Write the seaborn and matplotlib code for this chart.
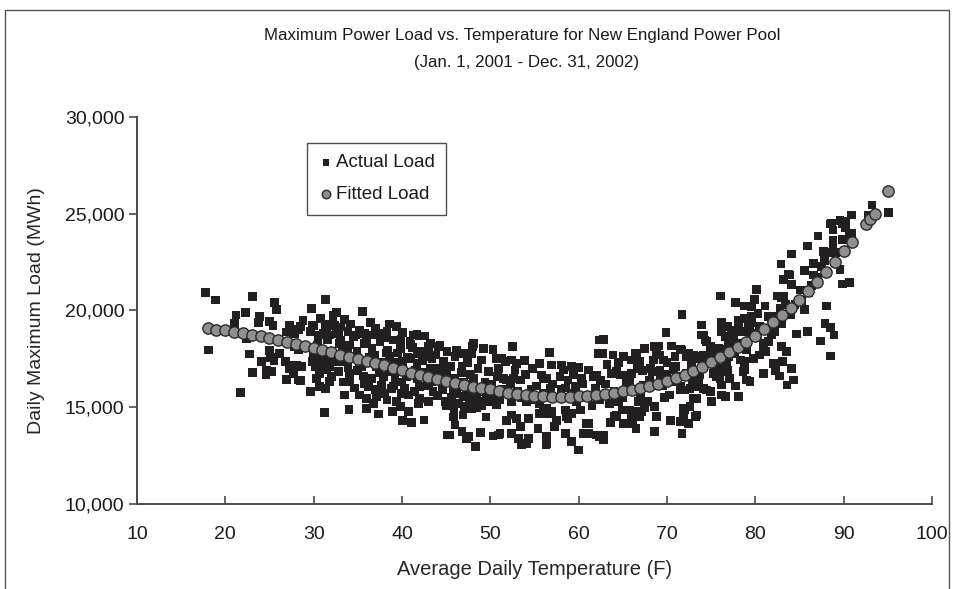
import matplotlib
matplotlib.use("Agg")
import matplotlib.pyplot as plt
from matplotlib.patches import Rectangle
from matplotlib.ticker import FuncFormatter, MultipleLocator
import seaborn as sns
import pandas as pd

# Daily observations (average daily temperature in F, daily maximum load in MWh)
cold_temp = [17.8, 18.9, 23.1, 25.6, 25.8, 22.3, 21.2, 23.9, 21.0, 23.8, 25.0, 25.4, 27.3, 26.9,
             27.7, 28.3, 22.4, 18.1, 22.7, 25.0, 26.1, 25.1, 25.5, 24.1, 26.8, 28.1, 27.3, 24.7,
             25.2, 23.1, 24.6, 27.7, 26.9, 28.3, 21.7, 27.8, 28.3, 28.5, 28.8, 29.9, 29.6, 27.9,
             29.8, 27.7, 29.6, 28.6, 28.5]
cold_load = [20920, 20540, 20710, 20400, 20060, 19900, 19770, 19680, 19340, 19390, 19420, 19210, 19250, 18890,
             18850, 19030, 18560, 17960, 17750, 17920, 17790, 17580, 17405, 17355, 17355, 17180, 17010, 16925,
             16840, 16805, 16665, 16750, 16445, 16410, 15750, 18130, 17960, 19160, 19470, 19250, 18900, 18820,
             20110, 17180, 15800, 17100, 16400]

cool_temp = [31.3, 32.6, 32.2, 35.5, 33.5, 36.4, 30.0, 31.3, 32.3, 38.6, 39.4, 30.7, 31.5, 32.6,
             33.9, 35.2, 36.8, 37.9, 40.1, 41.7, 42.6, 33.0, 34.5, 36.0, 37.5, 39.0, 40.9, 43.0,
             44.3, 45.1, 34.1, 36.6, 38.4, 39.8, 41.7, 43.4, 44.7, 30.0, 31.1, 32.2, 30.3, 31.8,
             33.4, 34.7, 35.4, 37.1, 38.6, 40.1, 41.7, 43.2, 30.7, 32.8, 34.1, 35.6, 36.6, 37.9,
             38.6, 40.5, 41.8, 44.3, 31.8, 34.1, 36.2, 37.7, 38.8, 40.3, 42.0, 43.5, 31.3, 33.5,
             35.2, 36.0, 37.1, 38.3, 39.4, 40.7, 42.0, 43.0, 39.8, 40.7, 36.0, 37.3, 31.2, 40.1,
             41.1, 42.5, 45.1, 44.9, 32.2, 32.4, 31.1, 31.8, 32.8, 34.7, 37.5, 38.3, 41.3, 42.0,
             43.2, 44.1, 30.5, 30.7, 30.2, 30.9, 31.5, 31.5, 30.7, 33.2, 34.9, 35.8, 36.9, 37.6,
             38.9, 39.5, 40.6, 41.2, 42.3, 42.8, 43.8, 44.5, 43.7, 42.9, 41.5, 40.0, 39.2, 35.0,
             33.9, 32.5, 31.9, 30.4, 29.9, 44.0, 41.4, 39.9, 37.0, 34.6, 45.0, 30.8, 33.0, 34.2,
             35.8, 37.0, 38.0, 39.9, 41.0, 42.0, 43.0, 44.2, 44.8, 43.4, 42.2, 41.0, 39.6, 38.2,
             36.3, 35.2, 33.8, 32.9, 31.6, 30.9, 30.3, 32.0, 33.4, 35.8, 37.4, 38.0, 39.0, 41.9,
             43.0, 44.6, 45.0, 36.8, 34.0, 38.9]
cool_load = [20580, 19890, 19680, 19940, 19540, 19390, 19200, 19290, 19200, 19300, 19160, 18730, 18820, 18820,
             18900, 18990, 18730, 18820, 18850, 18785, 18680, 18475, 18650, 18475, 18390, 18475, 18390, 18130,
             18215, 17870, 18215, 18045, 17960, 18045, 17790, 17530, 17355, 17610, 17530, 17700, 17270, 17100,
             17355, 17530, 17100, 17100, 17610, 17355, 17270, 17010, 16750, 16840, 16750, 16615, 16495, 16580,
             16840, 16580, 16495, 16495, 16320, 16320, 16065, 16150, 15980, 15980, 16065, 15800, 15980, 15630,
             15630, 15460, 15545, 15375, 15290, 15630, 15460, 15290, 15030, 14770, 14945, 14650, 14720, 14305,
             14200, 14340, 13565, 15290, 19770, 19250, 18820, 18730, 18900, 18730, 18680, 18900, 18730, 18680,
             18300, 18130, 18560, 17440, 17100, 17010, 17440, 16925, 16060, 18100, 17900, 18300, 17700, 17300,
             17200, 17800, 17600, 18100, 17400, 17900, 17700, 16900, 16700, 16400, 16900, 16300, 16500, 16900,
             17050, 17350, 17900, 18200, 17350, 15600, 15800, 15700, 15900, 16000, 16700, 19600, 19150, 19300,
             18800, 19050, 18600, 18500, 18250, 17900, 17600, 17000, 16600, 16300, 16800, 17500, 17300, 17800,
             17600, 17300, 17800, 18300, 18500, 17800, 16500, 16600, 16300, 16200, 16800, 15700, 16100, 15200,
             16100, 15900, 15100, 15200, 14900, 14800]

mild_temp = [48.0, 50.3, 52.5, 56.7, 46.0, 46.9, 46.8, 47.9, 49.0, 50.7, 51.7, 52.4, 53.0, 53.9,
             55.6, 56.9, 58.3, 59.2, 60.0, 61.1, 62.2, 49.8, 50.9, 52.8, 51.5, 52.6, 53.4, 55.8,
             56.4, 56.8, 58.8, 59.4, 60.3, 61.7, 48.1, 45.4, 46.2, 46.9, 47.7, 48.5, 49.2, 45.4,
             46.4, 47.1, 47.9, 50.7, 52.4, 54.1, 55.6, 56.4, 56.9, 58.5, 59.2, 60.2, 61.1, 62.0,
             46.9, 46.0, 46.8, 47.3, 48.3, 50.3, 50.9, 52.4, 53.0, 53.4, 52.4, 53.2, 53.5, 54.3,
             54.3, 56.4, 56.3, 57.3, 58.5, 59.2, 60.0, 60.5, 45.4, 58.6, 55.6, 46.2, 48.1, 49.2,
             51.3, 47.5, 51.1, 56.0, 59.6, 51.8, 58.1, 62.0, 56.0, 56.6, 58.8, 60.9, 54.1, 56.4,
             61.1, 62.4, 45.8, 46.5, 47.3, 48.0, 48.8, 49.5, 45.6, 47.0, 50.0, 46.0, 47.6, 49.0,
             50.2, 48.4, 45.9, 51.0, 52.0, 53.5, 54.6, 55.2, 57.5, 58.0, 59.8, 61.5, 57.9, 54.8,
             50.8, 45.5, 46.7, 47.4, 48.6, 49.4, 50.4, 51.4, 52.3, 53.1, 54.0, 55.0, 56.0, 57.0,
             58.5, 59.5, 60.5, 61.5, 57.5, 55.4, 51.8, 49.5, 48.9, 46.4, 47.8, 45.8]
mild_load = [18130, 17995, 18130, 17820, 17610, 17790, 17100, 17790, 17440, 17530, 17355, 17440, 17270, 17410,
             17270, 17180, 16925, 17100, 17060, 16925, 17790, 16840, 17010, 16925, 16495, 16495, 16410, 16665,
             16495, 15980, 16410, 16665, 16495, 16580, 16495, 16320, 15720, 15545, 15720, 15460, 15290, 15120,
             15200, 15030, 14945, 15120, 15290, 15290, 15200, 14945, 14770, 14860, 14690, 14860, 14170, 13565,
             14600, 14080, 13735, 13395, 12960, 13515, 13565, 14600, 14430, 13995, 13650, 13395, 13050, 13395,
             14430, 13480, 13050, 13995, 13650, 13220, 12790, 13650, 13565, 14515, 14690, 17960, 18300, 18045,
             17530, 13480, 13650, 16495, 16065, 16410, 17180, 16665, 14860, 14690, 14430, 14170, 13135, 13135,
             13650, 13480, 15900, 16100, 15900, 16200, 15800, 15600, 15500, 16300, 15300, 16500, 15300, 15100,
             16200, 15000, 14800, 15400, 15700, 15500, 15900, 16100, 15500, 15900, 15300, 15600, 16600, 17000,
             16600, 17100, 16800, 17300, 17000, 16300, 15700, 15900, 16200, 15800, 16700, 15400, 15700, 16200,
             16000, 15700, 16200, 15100, 14300, 13900, 14300, 14500, 13700, 16300, 16700, 14500]

warm_temp = [76.1, 77.8, 78.8, 71.7, 73.9, 76.2, 78.1, 69.9, 76.2, 77.3, 74.1, 62.8, 74.5, 75.6,
             76.9, 69.0, 70.5, 71.5, 67.5, 66.4, 62.7, 63.9, 65.1, 66.0, 66.9, 68.5, 69.6, 70.9,
             72.2, 73.4, 74.9, 76.0, 76.9, 78.3, 78.8, 79.0, 63.7, 64.7, 66.0, 66.6, 68.1, 69.2,
             70.7, 72.2, 73.7, 75.2, 76.0, 77.1, 65.4, 67.3, 70.3, 71.5, 72.6, 74.5, 76.2, 78.1,
             73.4, 72.6, 71.9, 73.4, 72.4, 71.5, 71.7, 68.6, 68.8, 68.6, 66.8, 65.8, 64.9, 64.1,
             66.0, 67.1, 65.1, 66.1, 62.8, 62.4, 62.4, 66.6, 68.6, 69.2, 71.7, 73.0, 64.3, 65.2,
             68.3, 69.2, 71.5, 72.0, 73.4, 64.3, 66.2, 66.9, 72.0, 62.8, 74.3, 74.9, 75.8, 76.6,
             77.5, 72.4, 73.2, 74.1, 78.1, 78.8, 79.6, 78.1, 79.2, 75.3, 75.6, 76.7, 77.7, 78.5,
             79.0, 78.8, 78.6, 76.3, 76.2, 76.6, 74.1, 74.9, 73.0, 73.2, 71.9, 71.9, 76.9, 79.4,
             73.9, 63.0, 64.0, 65.0, 67.0, 68.0, 69.5, 70.0, 63.5, 61.9, 67.8, 70.8, 72.8, 74.0,
             75.0, 77.0, 79.5, 78.0, 73.6, 62.5, 63.2, 64.5, 65.8, 67.2, 68.8, 70.0, 71.2, 71.0,
             72.9, 73.9, 74.6, 75.4, 76.5, 77.4, 78.4, 79.3, 79.8, 77.8, 75.0, 69.7, 67.5, 64.5,
             66.5, 70.4, 63.6]
warm_load = [20750, 20400, 20230, 19800, 19250, 19370, 19510, 18850, 18900, 18990, 18730, 18510, 18390, 18045,
             18390, 18165, 18165, 17995, 18045, 17790, 17790, 17700, 17610, 17440, 17355, 17440, 17440, 17610,
             17610, 17530, 17530, 17010, 16925, 17440, 16925, 16410, 16750, 16665, 16750, 17010, 17010, 16925,
             16925, 16750, 16665, 16750, 16495, 16495, 16235, 16150, 15630, 15890, 15980, 15890, 15630, 15545,
             15460, 15030, 14945, 14600, 14170, 14250, 13650, 15030, 14515, 13735, 15290, 14860, 14860, 14515,
             14515, 14770, 14170, 14170, 13565, 18475, 15370, 17700, 18130, 17700, 17960, 17700, 16840, 16665,
             16840, 16495, 16065, 15890, 16065, 14600, 14770, 14515, 14860, 13310, 18475, 18130, 18045, 18645,
             18645, 17790, 17610, 17700, 19420, 19600, 19680, 19080, 19340, 16750, 16580, 17270, 17790, 18130,
             17960, 17355, 16840, 16840, 16150, 15545, 15980, 15800, 15460, 14515, 14860, 14515, 19160, 20230,
             18730, 16200, 15800, 15500, 15700, 16400, 16100, 16700, 15200, 16000, 15300, 16300, 17200, 17300,
             17900, 17600, 18700, 18300, 16400, 16400, 17200, 17300, 16300, 16900, 17800, 17300, 16600, 17100,
             16400, 17000, 17300, 17100, 18000, 18300, 18900, 19000, 17500, 16100, 15300, 15500, 15000, 15300,
             13900, 14300, 14200]

hot_temp = [95.1, 93.2, 92.8, 90.9, 89.6, 90.2, 88.5, 88.8, 90.2, 87.1, 90.7, 88.8, 89.9, 85.9,
            84.1, 87.7, 88.8, 82.9, 86.6, 87.5, 85.6, 89.6, 83.8, 83.2, 84.1, 80.1, 82.5, 83.2,
            79.9, 85.1, 89.9, 90.7, 86.6, 81.1, 82.8, 85.6, 88.1, 79.6, 80.3, 81.5, 83.0, 87.9,
            88.5, 79.6, 84.7, 85.9, 88.9, 87.4, 81.8, 80.9, 80.9, 83.0, 83.5, 88.5, 83.1, 82.1,
            82.3, 84.1, 80.9, 82.7, 84.3, 83.6, 79.4, 88.3, 83.9, 82.9, 80.5, 81.8, 88.6, 89.9,
            90.9, 80.0, 81.0, 82.0, 81.5, 80.5, 82.5, 84.5, 86.0, 87.0, 80.3, 81.2, 82.2, 83.4,
            84.0, 85.2, 86.4, 87.8, 89.1]
hot_load = [25055, 25450, 24935, 24935, 24640, 24590, 24470, 24160, 24300, 23850, 23900, 23645, 23680, 23330,
            22920, 23040, 23300, 22400, 22440, 22260, 22060, 22130, 21890, 21610, 21350, 21100, 20750, 20710,
            20580, 21060, 21370, 21440, 21835, 20230, 20110, 20060, 20230, 20200, 19850, 19680, 19300, 19340,
            19130, 19370, 18785, 18900, 18730, 18420, 18730, 18300, 18045, 18130, 17870, 17650, 17355, 17270,
            16890, 17010, 16750, 16615, 16410, 16150, 16320, 22990, 21830, 20680, 19160, 19590, 24510, 24510,
            23990, 18800, 19000, 19300, 18400, 17700, 19700, 20300, 20900, 21700, 18600, 17900, 18900, 20300,
            19800, 20500, 21300, 22600, 23000]

# Model output at each observed temperature
fitted_temp = [18, 19, 20, 21, 22, 23, 24, 25, 26, 27, 28, 29, 30, 31, 32, 33, 34, 35, 36, 37,
               38, 39, 40, 41, 42, 43, 44, 45, 46, 47, 48, 49, 50, 51, 52, 53, 54, 55, 56, 57,
               58, 59, 60, 61, 62, 63, 64, 65, 66, 67, 68, 69, 70, 71, 72, 73, 74, 75, 76, 77,
               78, 79, 80, 81, 82, 83, 84, 85, 86, 87, 88, 89, 90, 91, 92.5, 93, 93.5, 95]
fitted_load = [19080, 19010, 18990, 18910, 18830, 18740, 18660, 18570, 18480, 18380, 18260, 18160, 18050,
               17940, 17830, 17720, 17610, 17480, 17380, 17280, 17160, 17030, 16910, 16790, 16670, 16550,
               16440, 16340, 16250, 16150, 16060, 15990, 15920, 15830, 15760, 15700, 15640, 15600, 15570,
               15550, 15550, 15550, 15560, 15580, 15610, 15680, 15760, 15830, 15910, 15990, 16100, 16220,
               16340, 16500, 16680, 16880, 17100, 17320, 17580, 17850, 18110, 18390, 18690, 19020, 19380,
               19760, 20150, 20560, 21000, 21470, 22000, 22520, 23050, 23550, 24480, 24720, 24990, 26150]

actual = pd.DataFrame({
    "temp": cold_temp + cool_temp + mild_temp + warm_temp + hot_temp,
    "load": cold_load + cool_load + mild_load + warm_load + hot_load,
})
fitted = pd.DataFrame({"temp": fitted_temp, "load": fitted_load})

sns.set_theme(style="white")
plt.rcParams["font.family"] = ["Liberation Sans", "DejaVu Sans"]
plt.rcParams["text.color"] = "#1a1a1a"

fig = plt.figure(figsize=(9.54, 5.89), dpi=100)
ax = fig.add_axes([0.1436, 0.1443, 0.8333, 0.6571])

sns.scatterplot(data=actual, x="temp", y="load", ax=ax, marker="s", s=40,
                color="#231f20", edgecolor="none", linewidth=0, label="Actual Load", zorder=2)
sns.scatterplot(data=fitted, x="temp", y="load", ax=ax, marker="o", s=66,
                color="#8f8f8f", edgecolor="#2a2a2a", linewidth=1.0, label="Fitted Load", zorder=3)

ax.set_xlim(10, 100)
ax.set_ylim(10000, 30000)
ax.xaxis.set_major_locator(MultipleLocator(10))
ax.yaxis.set_major_locator(MultipleLocator(5000))
ax.yaxis.set_major_formatter(FuncFormatter(lambda v, p: f"{int(v):,}"))

for side in ("top", "right"):
    ax.spines[side].set_visible(False)
for side in ("left", "bottom"):
    ax.spines[side].set_color("#4a4a4a")
    ax.spines[side].set_linewidth(1.4)

ax.tick_params(axis="x", direction="in", length=6, width=1.2, color="#4a4a4a",
               labelsize=14, pad=16, labelcolor="#1a1a1a")
ax.tick_params(axis="y", direction="out", length=6, width=1.2, color="#4a4a4a",
               labelsize=14, pad=3, labelcolor="#1a1a1a")
ax.tick_params(left=True, bottom=True)

ax.set_xlabel("Average Daily Temperature (F)", fontsize=14.5, labelpad=12)
ax.set_ylabel("Daily Maximum Load (MWh)", fontsize=14, labelpad=14)

fig.text(0.547, 0.94, "Maximum Power Load vs. Temperature for New England Power Pool",
         ha="center", va="center", fontsize=12.2)
fig.text(0.552, 0.894, "(Jan. 1, 2001 - Dec. 31, 2002)", ha="center", va="center", fontsize=12.2)

leg = ax.legend(loc="upper left", bbox_to_anchor=(0.214, 0.933), borderaxespad=0,
                frameon=True, fancybox=False, fontsize=13.5, handletextpad=0.15,
                borderpad=0.6, labelspacing=0.8, markerscale=0.75, handlelength=0.8)
leg.get_frame().set_edgecolor("#222222")
leg.get_frame().set_linewidth(1.0)

fig.add_artist(Rectangle((0.005, -0.1), 0.99, 1.083, transform=fig.transFigure,
                         fill=False, edgecolor="#555555", linewidth=1.0, clip_on=False))

fig.savefig("out.png", dpi=100)
